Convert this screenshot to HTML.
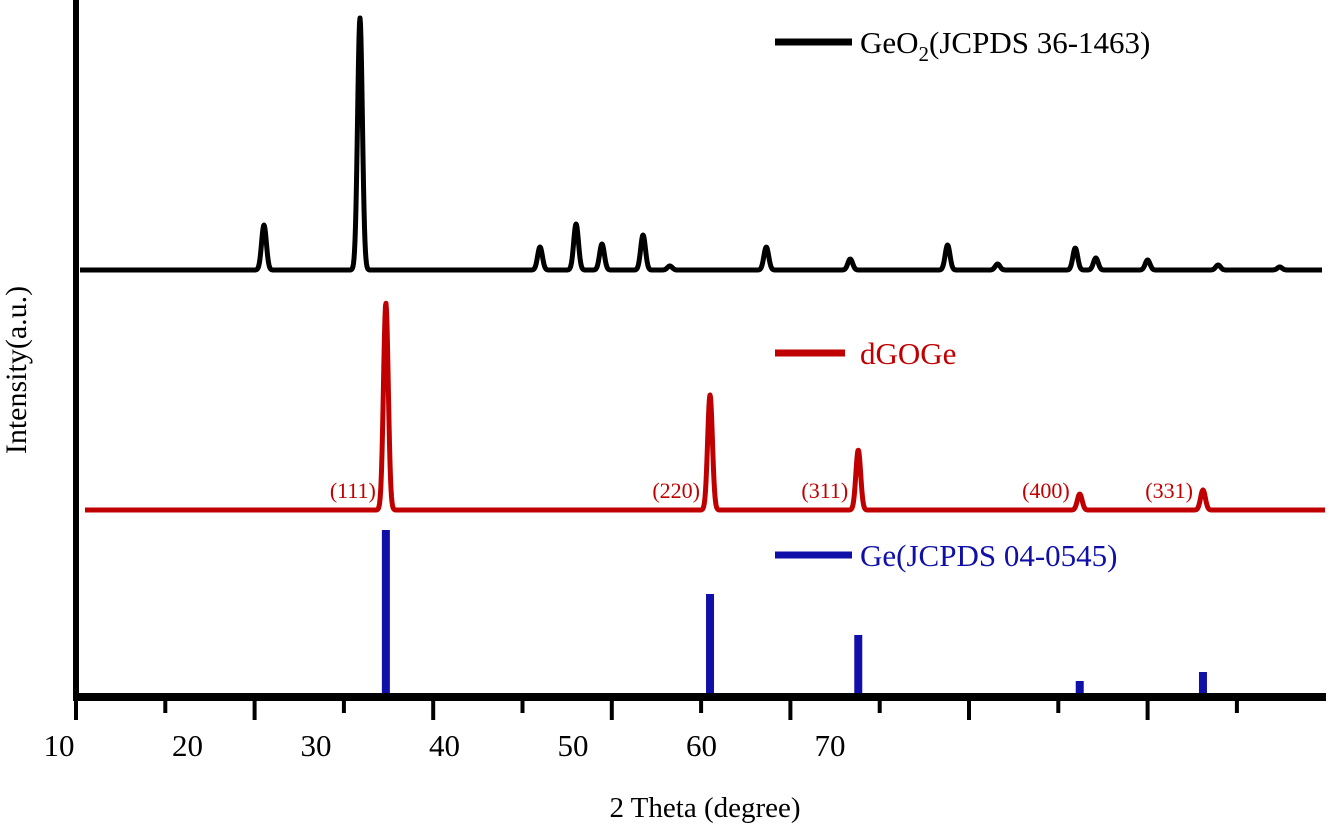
<!DOCTYPE html>
<html><head><meta charset="utf-8"><style>
body{margin:0;background:#fff}
svg{display:block;font-family:"Liberation Serif",serif}
</style></head><body>
<svg id="chart" width="1331" height="833" viewBox="0 0 1331 833" xmlns="http://www.w3.org/2000/svg">
<g id="plot"></g>
<g id="axes"></g>
<text x="0" y="0" transform="translate(26,370) rotate(-90)" text-anchor="middle" font-size="30">Intensity(a.u.)</text>
<text x="705" y="817" text-anchor="middle" font-size="29">2 Theta (degree)</text>
<g>
<line x1="775" y1="42" x2="852" y2="42" stroke="#000" stroke-width="7"/>
<text x="860" y="53" font-size="31">GeO<tspan font-size="21" dy="8">2</tspan><tspan dy="-8">(JCPDS 36-1463)</tspan></text>
</g>
<g>
<line x1="775" y1="353" x2="845" y2="353" stroke="#c00000" stroke-width="7"/>
<text x="860" y="364" font-size="31" fill="#c00000">dGOGe</text>
</g>
<g>
<line x1="775" y1="555" x2="852" y2="555" stroke="#1010a8" stroke-width="7"/>
<text x="860" y="566" font-size="31" fill="#1010a8">Ge(JCPDS 04-0545)</text>
</g>
</svg>
<script>
const geo2Pos=[31.05,41.8,61.96,66.0,68.9,73.5,76.5,87.3,96.7,107.6,113.2,121.9,124.2,130.0,137.9,144.8];
const geo2Int=[45,252,23,46,26,35,4,23,11,25,6,22,12,10,5,3];
const dgogePos=[44.7,81.0,97.6,122.4,136.2];
const dgogeInt=[207,115,60,16,20];
const gePos=[44.7,81.0,97.6,122.4,136.2];
const geInt=[167,103,62,16,25];
const hklLabels=["(111)","(220)","(311)","(400)","(331)"];
const xTicks=[10,20,30,40,50,60,70,80,90,100,110,120,130,140];
const xTickLabels=["10","20","30","40","50","60","70"];

const NS="http://www.w3.org/2000/svg";
const x=d=>76+(d-10)*8.93;
const yGeo=v=>270-v, yRed=v=>510-v, yBlue=v=>697-v;
const plot=document.getElementById('plot'), axes=document.getElementById('axes');
function mk(tag,attrs,parent){const e=document.createElementNS(NS,tag);for(const k in attrs)e.setAttribute(k,attrs[k]);parent.appendChild(e);return e;}
function curve(pos,ints,ys,x0,x1){
  let d="";
  for(let px=x0;px<=x1;px+=0.5){
    let v=0;
    for(let i=0;i<pos.length;i++){const dx=px-x(pos[i]);v+=ints[i]*Math.exp(-dx*dx/(2*2.4*2.4));}
    d+=(d?"L":"M")+px.toFixed(1)+","+ys(v).toFixed(1);
  }
  return d;
}
const p1=mk('path',{d:curve(geo2Pos,geo2Int,yGeo,80,1322),fill:'none',stroke:'#000','stroke-width':5,'stroke-linejoin':'round'},plot);


const p2=mk('path',{d:curve(dgogePos,dgogeInt,yRed,85,1325),fill:'none',stroke:'#c00000','stroke-width':5,'stroke-linejoin':'round'},plot);


gePos.forEach((p,i)=>{
  const r=mk('rect',{x:x(p)-4,y:yBlue(geInt[i]),width:8,height:geInt[i],fill:'#1010a8'},plot);
  
  
});
dgogePos.forEach((p,i)=>{
  const t=mk('text',{x:x(p)-10,y:498,'text-anchor':'end','font-size':22,fill:'#c00000'},plot);
  t.textContent=hklLabels[i];
  
  
});
const ya=mk('line',{x1:76,y1:0,x2:76,y2:701,stroke:'#000','stroke-width':6},axes);


const xa=mk('line',{x1:73,y1:697,x2:1326,y2:697,stroke:'#000','stroke-width':8},axes);


xTicks.forEach((t,i)=>{
  const l=mk('line',{x1:x(t),y1:697,x2:x(t),y2:i%2===0?720:713,stroke:'#000','stroke-width':4},axes);
  
  
});
xTickLabels.forEach((s,i)=>{
  const t=mk('text',{x:59+i*128.5,y:756,'text-anchor':'middle','font-size':31},axes);
  t.textContent=s;
  
  
});
</script>
</body></html>
